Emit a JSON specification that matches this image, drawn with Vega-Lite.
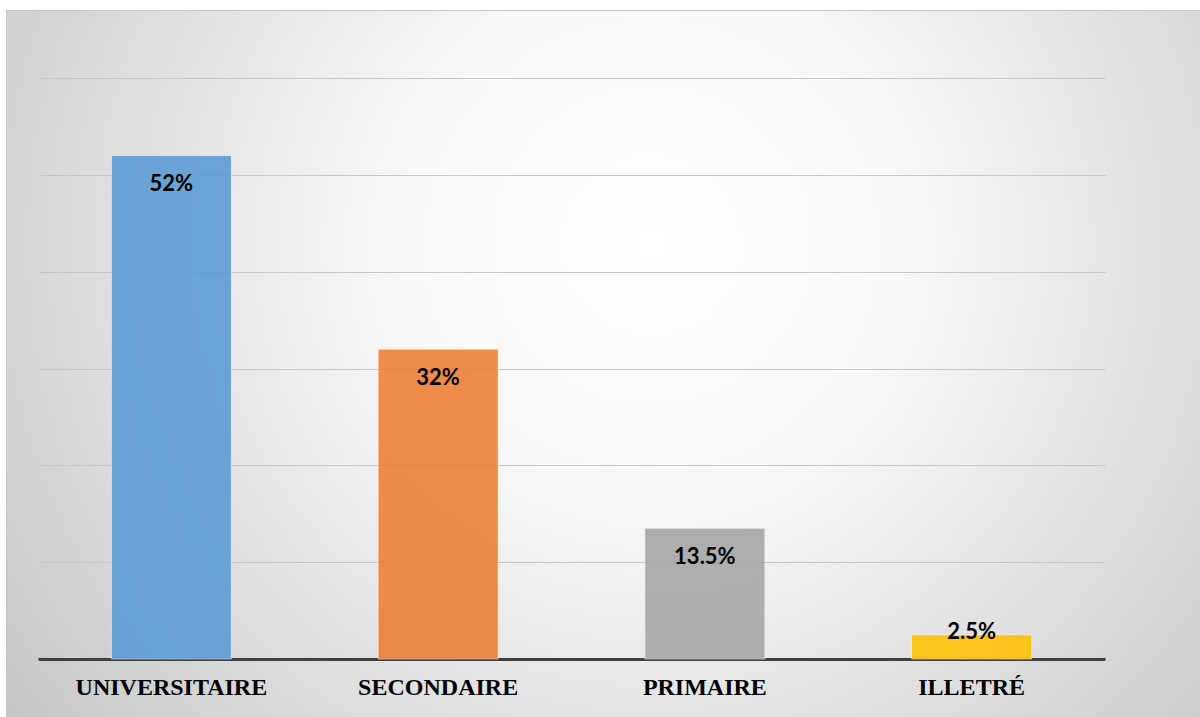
{
  "$schema": "https://vega.github.io/schema/vega-lite/v6.json",
  "width": 1194,
  "height": 707,
  "autosize": {"type": "none"},
  "padding": {"left": 6, "top": 10, "right": 0, "bottom": 0},
  "background": "#ffffff",
  "view": {
    "fill": {
      "gradient": "radial",
      "x1": 0.54, "y1": 0.4, "r1": 0,
      "x2": 0.54, "y2": 0.4, "r2": 0.75,
      "stops": [
        {"offset": 0, "color": "#ffffff"},
        {"offset": 0.3, "color": "#f7f7f7"},
        {"offset": 1, "color": "#bdbdbd"}
      ]
    },
    "stroke": "#c4c4c4",
    "strokeWidth": 1
  },
  "data": {
    "values": [
      {"niveau": "UNIVERSITAIRE", "part": 0.52},
      {"niveau": "SECONDAIRE", "part": 0.32},
      {"niveau": "PRIMAIRE", "part": 0.135},
      {"niveau": "ILLETRÉ", "part": 0.025}
    ]
  },
  "encoding": {
    "x": {
      "field": "niveau",
      "type": "nominal",
      "sort": null,
      "scale": {"range": [32, 1099], "paddingInner": 0.55, "paddingOuter": 0.275},
      "axis": {
        "title": null,
        "labelAngle": 0,
        "ticks": false,
        "grid": false,
        "domainColor": "#404040",
        "domainWidth": 3,
        "labelFont": "Liberation Serif",
        "labelFontWeight": "bold",
        "labelFontSize": 24,
        "labelColor": "#000000",
        "labelLimit": 0,
        "labelPadding": 16,
        "offset": -58
      }
    },
    "y": {
      "field": "part",
      "type": "quantitative",
      "scale": {"domain": [0, 0.6], "range": [649, 68], "nice": false},
      "axis": {
        "title": null,
        "labels": false,
        "ticks": false,
        "domain": false,
        "grid": true,
        "gridColor": "#c6c6c6",
        "gridWidth": 1.2,
        "values": [0.1, 0.2, 0.3, 0.4, 0.5, 0.6]
      }
    }
  },
  "layer": [
    {
      "mark": {"type": "bar", "opacity": 0.88, "stroke": "#ffffff", "strokeOpacity": 0.6, "strokeWidth": 1},
      "encoding": {
        "color": {
          "field": "niveau",
          "type": "nominal",
          "sort": null,
          "scale": {
            "domain": ["UNIVERSITAIRE", "SECONDAIRE", "PRIMAIRE", "ILLETRÉ"],
            "range": ["#5b9bd5", "#ed7d31", "#a5a5a5", "#ffc000"]
          },
          "legend": null
        }
      }
    },
    {
      "mark": {
        "type": "text",
        "font": "Lato",
        "fontWeight": "bold",
        "fontSize": 22,
        "color": "#000000",
        "baseline": "middle",
        "dy": {"expr": "datum.part < 0.05 ? -3 : 29"}
      },
      "encoding": {
        "text": {"field": "part", "type": "quantitative", "format": ".1~%"}
      }
    }
  ]
}
